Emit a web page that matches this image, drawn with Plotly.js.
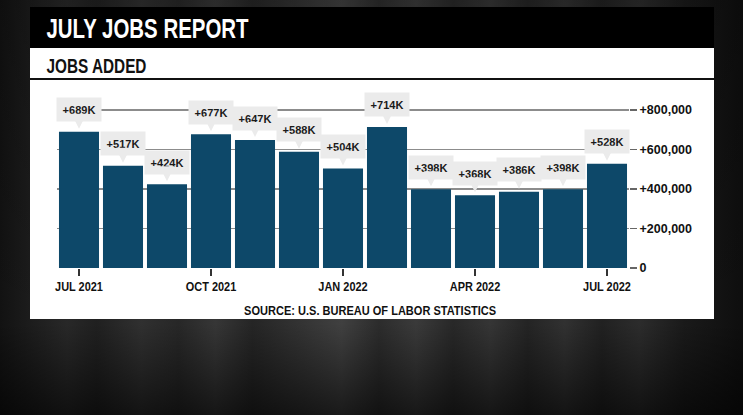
<!DOCTYPE html>
<html>
<head>
<meta charset="utf-8">
<script src="https://cdn.plot.ly/plotly-3.0.1.min.js"></script>
<style>
  html, body { margin: 0; padding: 0; width: 743px; height: 415px; overflow: hidden; }
  body {
    background:
      linear-gradient(to bottom, rgba(0,0,0,0.2) 0%, rgba(0,0,0,0) 78%, rgba(0,0,0,0.6) 100%),
      linear-gradient(to right, #121212 0%, #1c1c1c 4%, #282828 9%, #202020 13%, #303030 19%, #272727 24%, #363636 29%, #252525 34%, #323232 40%, #404040 46%, #2c2c2c 51%, #3a3a3a 56%, #282828 61%, #353535 66%, #242424 71%, #313131 76%, #212121 81%, #2c2c2c 86%, #1a1a1a 92%, #0e0e0e 100%);
  }
  #chart { width: 743px; height: 415px; }
</style>
</head>
<body>
<div id="chart"></div>
<script>
// ---- data ----
const months = ["JUL 2021","AUG 2021","SEP 2021","OCT 2021","NOV 2021","DEC 2021","JAN 2022","FEB 2022","MAR 2022","APR 2022","MAY 2022","JUN 2022","JUL 2022"];
const jobsAdded = [689000, 517000, 424000, 677000, 647000, 588000, 504000, 714000, 398000, 368000, 386000, 398000, 528000];
const barLabels = ["+689K","+517K","+424K","+677K","+647K","+588K","+504K","+714K","+398K","+368K","+386K","+398K","+528K"];
const xTickVals = ["JUL 2021","OCT 2021","JAN 2022","APR 2022","JUL 2022"];
const yTickVals = [0, 200000, 400000, 600000, 800000];
const yTickText = ["0","+200,000","+400,000","+600,000","+800,000"];
const titleText = "JULY JOBS REPORT";
const subtitleText = "JOBS ADDED";
const sourceText = "SOURCE: U.S. BUREAU OF LABOR STATISTICS";

// ---- layout geometry (pixels) ----
const W = 743, H = 415;
const PL = 57, PR = 629, PT = 100, PB = 268;
const fx = px => (px - PL) / (PR - PL);
const fy = py => (PB - py) / (PB - PT);

const SANS = "Liberation Sans, Arial, sans-serif";
const BOX = '#ebebeb';

const trace = {
  type: 'bar',
  x: months,
  y: jobsAdded,
  marker: { color: '#0d4869' },
  hoverinfo: 'x+y'
};

const labelAnnotations = months.map((m, i) => ({
  x: m, y: jobsAdded[i], xref: 'x', yref: 'y',
  text: barLabels[i],
  showarrow: true, ax: 0, ay: -22,
  arrowhead: 2, arrowsize: 1, arrowwidth: 3, arrowcolor: BOX,
  standoff: 3,
  bgcolor: BOX, width: 40, height: 19, borderpad: 2,
  font: { family: SANS, size: 11, color: '#1a1a1a', weight: 700 }
}));

const layout = {
  width: W, height: H,
  margin: { l: PL, r: W - PR, t: PT, b: H - PB, pad: 0 },
  paper_bgcolor: 'rgba(0,0,0,0)',
  plot_bgcolor: 'rgba(0,0,0,0)',
  showlegend: false,
  bargap: 0.09,
  xaxis: {
    type: 'category',
    range: [-0.5, months.length - 0.5],
    tickmode: 'array', tickvals: xTickVals, ticktext: xTickVals,
    ticks: 'outside', ticklen: 7, tickwidth: 1.2, tickcolor: '#333',
    showgrid: false, showline: false, zeroline: false,
    tickfont: { family: SANS, size: 12.5, color: '#111', weight: 700 },
    fixedrange: true
  },
  yaxis: {
    side: 'right',
    range: [0, 850000],
    tickmode: 'array', tickvals: yTickVals, ticktext: yTickText,
    ticks: 'outside', ticklen: 7, tickwidth: 1.5, tickcolor: '#666',
    showgrid: true, gridcolor: '#8c8c8c', gridwidth: 1.5,
    showline: false, zeroline: false,
    tickfont: { family: SANS, size: 12.5, color: '#111', weight: 700 },
    fixedrange: true
  },
  shapes: [
    { type: 'rect', xref: 'paper', yref: 'paper', x0: fx(30), x1: fx(714), y0: fy(319), y1: fy(48),
      fillcolor: '#ffffff', line: { width: 0 }, layer: 'below' },
    { type: 'rect', xref: 'paper', yref: 'paper', x0: fx(30), x1: fx(714), y0: fy(48), y1: fy(7),
      fillcolor: '#000000', line: { width: 0 }, layer: 'below' },
    { type: 'line', xref: 'paper', yref: 'paper', x0: fx(30), x1: fx(714), y0: fy(79), y1: fy(79),
      line: { color: '#111', width: 2 }, layer: 'below' }
  ],
  annotations: [
    { xref: 'paper', yref: 'paper', x: fx(147), y: fy(28), xanchor: 'center', yanchor: 'middle',
      text: titleText, showarrow: false,
      font: { family: SANS, size: 28, color: '#ffffff', weight: 700 } },
    { xref: 'paper', yref: 'paper', x: fx(96), y: fy(65), xanchor: 'center', yanchor: 'middle',
      text: subtitleText, showarrow: false,
      font: { family: SANS, size: 21, color: '#111', weight: 700 } },
    { xref: 'paper', yref: 'paper', x: fx(370), y: fy(311), xanchor: 'center', yanchor: 'middle',
      text: sourceText, showarrow: false,
      font: { family: SANS, size: 12, color: '#111', weight: 700 } }
  ].concat(labelAnnotations)
};

// condense text to mimic the narrow typeface of the original
function squeeze(el, target) {
  el.setAttribute('textLength', target);
  el.setAttribute('lengthAdjust', 'spacingAndGlyphs');
}

Plotly.newPlot('chart', [trace], layout, { displayModeBar: false, staticPlot: true }).then(gd => {
  const targets = {};
  targets[titleText] = 202;
  targets[subtitleText] = 100;
  targets[sourceText] = 252;
  gd.querySelectorAll('.annotation-text').forEach(el => {
    const t = el.textContent;
    if (targets[t]) squeeze(el, targets[t]);
  });
  gd.querySelectorAll('.xtick text').forEach(el => {
    squeeze(el, el.getComputedTextLength() * 0.875);
  });
});
</script>
</body>
</html>
